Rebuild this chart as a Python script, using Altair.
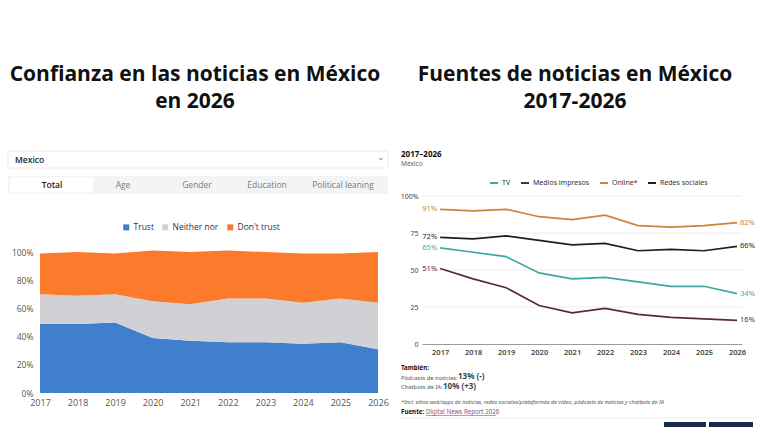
import altair as alt
import pandas as pd

# ---------------- data ----------------
years = [2017, 2018, 2019, 2020, 2021, 2022, 2023, 2024, 2025, 2026]

# Confianza en las noticias (% de encuestados)
trust = [49, 49, 50, 39, 37, 36, 36, 35, 36, 31]
neither = [21, 20, 20, 26, 26, 31, 31, 29, 31, 33]
dont_trust = [29, 31, 29, 36, 37, 34, 33, 35, 32, 36]
trust_series = ["Trust", "Neither nor", "Don't trust"]
trust_colors = ["#3f7fcd", "#d0d1d4", "#fb7a2c"]
trust_ticks = [0, 20, 40, 60, 80, 100]

# Fuentes de noticias (% que las usó la última semana)
tv = [65, 62, 59, 48, 44, 45, 42, 39, 39, 34]
impresos = [51, 44, 38, 26, 21, 24, 20, 18, 17, 16]
online = [91, 90, 91, 86, 84, 87, 80, 79, 80, 82]
redes = [72, 71, 73, 70, 67, 68, 63, 64, 63, 66]
source_series = ["TV", "Medios impresos", "Online*", "Redes sociales"]
source_colors = ["#3aa99f", "#5b2749", "#c9843d", "#1d1d2b"]
source_ticks = [0, 25, 50, 75, 100]
grid_ticks = [25, 50, 75, 100]

tabs = ["Total", "Age", "Gender", "Education", "Political leaning"]
tab_x = [52, 123, 197, 267, 343]

TITLE_FONT = "Open Sans"
UI_FONT = "Open Sans"
DNR_FONT = "Noto Sans"

W, H = 380, 445
one = pd.DataFrame({"k": [0]})


def label(text, x, y, size, color="#222", weight="normal", align="left",
          font=UI_FONT, style="normal"):
    return alt.Chart(one).mark_text(
        text=text, align=align, baseline="middle", fontSize=size, color=color,
        fontWeight=weight, font=font, fontStyle=style,
    ).encode(x=alt.value(x), y=alt.value(y))


def box(x1, x2, y1, y2, fill, stroke=None):
    kw = dict(fill=fill)
    if stroke:
        kw.update(stroke=stroke, strokeWidth=1)
    return alt.Chart(one).mark_rect(**kw).encode(
        x=alt.value(x1), x2=alt.value(x2), y=alt.value(y1), y2=alt.value(y2))


# ---------------- left panel: trust stacked area ----------------
conf_df = pd.DataFrame(
    [{"year": y, "serie": s, "idx": i, "value": v}
     for i, (s, vals) in enumerate(zip(trust_series, [trust, neither, dont_trust]))
     for y, v in zip(years, vals)]
)

xl = alt.X(
    "year:Q",
    scale=alt.Scale(domain=[2017, 2026], range=[40, 378], nice=False, zero=False),
    axis=alt.Axis(orient="bottom", offset=-52, values=years, format="d", ticks=False,
                  domain=False, grid=False, labelColor="#555", labelFontSize=9,
                  labelFont=UI_FONT, labelPadding=5, labelOverlap=False, labelFlush=False,
                  title=None, zindex=2),
)
yl = alt.Y(
    "value:Q", stack="zero",
    scale=alt.Scale(domain=[0, 100], range=[393, 252], nice=False),
    axis=alt.Axis(orient="left", offset=-40, values=trust_ticks,
                  labelExpr="datum.value + '%'", ticks=False, domain=False, grid=False,
                  labelColor="#555", labelFontSize=8.5, labelFont=UI_FONT,
                  labelPadding=7, title=None, zindex=2),
)

area = alt.Chart(conf_df).mark_area(interpolate="linear").encode(
    x=xl,
    y=yl,
    color=alt.Color(
        "serie:N",
        scale=alt.Scale(domain=trust_series, range=trust_colors),
        legend=alt.Legend(orient="none", legendX=122, legendY=223, direction="horizontal",
                          title=None, symbolType="square", symbolSize=36,
                          labelFontSize=8.5, labelFont=UI_FONT, labelColor="#333",
                          columnPadding=7, labelOffset=3, symbolStrokeWidth=0),
    ),
    order=alt.Order("idx:Q"),
)

left_layers = [
    box(0, W, 0, H, "white"),
    label("Confianza en las noticias en México", 195, 75, 21, "#111", "bold", "center", TITLE_FONT),
    label("en 2026", 195, 102, 21, "#111", "bold", "center", TITLE_FONT),
    box(8, 388, 151, 168, "white", "#ececec"),
    label("Mexico", 15, 159.5, 8.5, "#222", 600),
    label("⌄", 381, 157, 9, "#777", "normal", "center"),
    box(8, 388, 176, 194, "#f4f4f5"),
    box(10, 93, 177.5, 192.5, "white"),
]
for t, tx in zip(tabs, tab_x):
    if t == "Total":
        left_layers.append(label(t, tx, 185, 8.5, "#222", 600, "center"))
    else:
        left_layers.append(label(t, tx, 185, 8.5, "#7a7a7a", "normal", "center"))
left_layers.append(area)

left = alt.layer(*left_layers).properties(width=W, height=H)

# ---------------- right panel: news sources lines ----------------
src_df = pd.DataFrame(
    [{"year": y, "serie": s, "value": v}
     for s, vals in zip(source_series, [tv, impresos, online, redes])
     for y, v in zip(years, vals)]
)
src_df["label"] = src_df["value"].astype(str) + "%"

xr_scale = alt.Scale(domain=[2016.45, 2026.15], range=[42, 362], nice=False, zero=False)
yr_scale = alt.Scale(domain=[0, 100], range=[344, 196], nice=False)
xr_axis = alt.Axis(orient="bottom", offset=-101, values=years, format="d", ticks=False,
                   domain=True, domainColor="#9a9a9a", domainWidth=1, grid=False,
                   labelColor="#444", labelFontSize=7.5, labelFontWeight=600,
                   labelFont=DNR_FONT, labelPadding=4, labelOverlap=False, labelFlush=False,
                   title=None, zindex=2)
yr_axis = alt.Axis(orient="left", offset=-42, values=source_ticks,
                   labelExpr="datum.value == 100 ? '100%' : datum.label",
                   ticks=False, domain=False, grid=False, labelColor="#444",
                   labelFontSize=7, labelFont=DNR_FONT, labelPadding=4, title=None,
                   zindex=2)

xr = alt.X("year:Q", scale=xr_scale, axis=xr_axis)
yr = alt.Y("value:Q", scale=yr_scale, axis=yr_axis)
src_color = alt.Color(
    "serie:N",
    scale=alt.Scale(domain=source_series, range=source_colors),
    legend=alt.Legend(orient="none", legendX=109, legendY=178, direction="horizontal",
                      title=None, symbolType="stroke", symbolStrokeWidth=2, symbolSize=64,
                      labelFontSize=7, labelFont=DNR_FONT, labelColor="#333",
                      columnPadding=6, labelOffset=3),
)

grid = alt.Chart(pd.DataFrame({"value": grid_ticks})).mark_rule(
    color="#ececec", strokeWidth=1
).encode(y=yr, x=alt.value(42), x2=alt.value(362))

lines = alt.Chart(src_df).mark_line(strokeWidth=1.7).encode(x=xr, y=yr, color=src_color)

start_labels = alt.Chart(src_df).transform_filter(alt.datum.year == years[0]).mark_text(
    align="right", baseline="middle", dx=-3, fontSize=7.5, font=DNR_FONT
).encode(x=xr, y=yr, text="label:N", color=alt.Color("serie:N", legend=None))

end_labels = alt.Chart(src_df).transform_filter(alt.datum.year == years[-1]).mark_text(
    align="left", baseline="middle", dx=3, fontSize=7.5, font=DNR_FONT
).encode(x=xr, y=yr, text="label:N", color=alt.Color("serie:N", legend=None))

right_layers = [
    # white backdrop; starts a little right of the panel seam so the left panel's
    # last year label and dropdown edge stay visible
    box(15, W, 0, H, "white"),
    label("Fuentes de noticias en México", 195, 75, 21, "#111", "bold", "center", TITLE_FONT),
    label("2017-2026", 195, 102, 21, "#111", "bold", "center", TITLE_FONT),
    label("2017–2026", 21, 154.5, 8, "#111", "bold", "left", DNR_FONT),
    label("México", 21, 164, 6.5, "#666", "normal", "left", DNR_FONT),
    grid,
    lines,
    start_labels,
    end_labels,
    label("También:", 21, 368, 6.2, "#111", "bold", "left", DNR_FONT),
    label("Pódcasts de noticias:", 21, 377.5, 5.8, "#555", "normal", "left", DNR_FONT),
    label("13% (-)", 78, 377, 8, "#2d4a4f", "bold", "left", DNR_FONT),
    label("Chatbots de IA:", 21, 387, 5.8, "#555", "normal", "left", DNR_FONT),
    label("10% (+3)", 63, 386.5, 8, "#2d4a4f", "bold", "left", DNR_FONT),
    label("*Incl. sitios web/apps de noticias, redes sociales/plataformas de vídeo, "
          "pódcasts de noticias y chatbots de IA",
          21, 402, 5.5, "#555", "normal", "left", DNR_FONT, "italic"),
    label("Fuente:", 21, 412, 6.2, "#111", "bold", "left", DNR_FONT),
    label("Digital News Report 2026", 46, 412, 6.2, "#9b4d7c", "normal", "left", DNR_FONT),
    alt.Chart(one).mark_rule(color="#9b4d7c", strokeWidth=0.6).encode(
        x=alt.value(46), x2=alt.value(116), y=alt.value(415.5)),
    alt.Chart(one).mark_rule(color="#eeeeee", strokeWidth=1).encode(
        x=alt.value(20), x2=alt.value(376), y=alt.value(418)),
    box(284, 326, 422, 427, "#1b2a4a"),
    box(329, 373, 422, 427, "#1b2a4a"),
]

right = alt.layer(*right_layers).properties(width=W, height=H)

chart = (
    alt.hconcat(left, right, spacing=0, bounds="flush")
    .resolve_scale(x="independent", y="independent", color="independent")
    .resolve_axis(x="independent", y="independent")
    .resolve_legend(color="independent")
    .properties(padding=0, background="white")
    .configure_view(stroke=None)
)

chart.save("out.html", embed_options={"renderer": "svg", "actions": False})
